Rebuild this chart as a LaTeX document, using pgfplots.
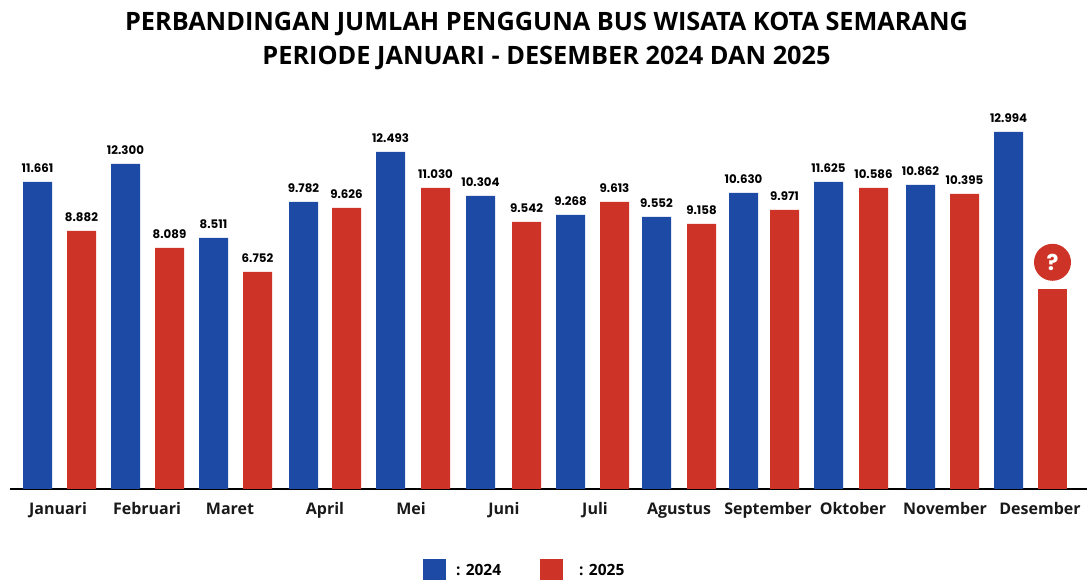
\documentclass[border=0pt]{standalone}
\usepackage{pgfplots}
\usepackage{pgfplotstable}
\usepackage{fontspec}
\pgfplotsset{compat=1.18}
\setmainfont{Open Sans}[BoldFont={* Bold}]
\newfontfamily\pop{Poppins}[BoldFont={* Bold}]
\definecolor{cblue}{HTML}{1D4AA5}
\definecolor{cred}{HTML}{CE3328}
% x = bar centre, h = drawn bar height, lab = printed value
\pgfplotstableread{
x h lab
37.5 307 11.661
125.5 325 12.300
213.5 251 8.511
303.5 287 9.782
390.5 337 12.493
480.5 293 10.304
570.5 274 9.268
656.5 272 9.552
743.5 296 10.630
828.5 307 11.625
920.5 304 10.862
1008.5 357 12.994
}\bluedata
\pgfplotstableread{
x h lab
81.5 258 8.882
169.5 241 8.089
257.5 217 6.752
346.5 281 9.626
435.5 301 11.030
526.5 267 9.542
614.5 287 9.613
701.5 265 9.158
784.5 279 9.971
873.5 301 10.586
964.5 295 10.395
}\reddata
\begin{document}
\begin{tikzpicture}
\path[use as bounding box] (0,0) rectangle (1087pt,580pt);
\begin{axis}[
  at={(0,0)}, anchor=south west,
  scale only axis, width=1087pt, height=580pt,
  xmin=0, xmax=1087, ymin=-91, ymax=489,
  axis y line=none,
  axis x line=middle,
  axis line style={draw=none},
  clip=false,
  xtick={58,147,230,325,411,504,595,679,768,853,945,1040},
  xticklabels={Januari,Februari,Maret,April,Mei,Juni,Juli,Agustus,September,Oktober,November,Desember},
  major tick length=0pt,
  tick label style={font=\fontsize{16}{18}\selectfont\bfseries, text=black!90, anchor=base, yshift=-26pt},
  title={PERBANDINGAN JUMLAH PENGGUNA BUS WISATA KOTA SEMARANG\\[8.5pt]PERIODE JANUARI - DESEMBER 2024 DAN 2025},
  title style={at={(axis cs:546.5,471)}, anchor=north, align=center, font=\fontsize{25.3}{25.3}\selectfont\bfseries, inner sep=0pt},
  legend columns=2,
  legend style={at={(axis cs:423,-70)}, anchor=north west, draw=none, fill=none, inner sep=0pt, outer sep=0pt,
    font=\fontsize{15.5}{18}\selectfont\bfseries,
    nodes={inner sep=0pt, anchor=west},
    /tikz/column 1/.style={column sep=10pt},
    /tikz/column 2/.style={column sep=39pt},
    /tikz/column 3/.style={column sep=16pt}},
  legend image code/.code={\fill[#1] (0pt,-9pt) rectangle (23pt,12pt);},
  nodes near coords style={font=\pop\fontsize{11.8}{12}\selectfont\bfseries, text=black, anchor=south, inner sep=0pt, yshift=9pt},
]
\addplot[forget plot, black, line width=2pt] coordinates {(10,0) (1087,0)};
\addplot[ybar, bar width=29pt, bar shift=0pt, fill=cblue, draw=none,
  point meta=explicit symbolic, nodes near coords={\pgfplotspointmeta}]
  table[x=x, y=h, meta=lab] {\bluedata};
\addlegendentry{: 2024}
\addplot[ybar, bar width=29pt, bar shift=0pt, fill=cred, draw=none,
  point meta=explicit symbolic, nodes near coords={\pgfplotspointmeta}]
  table[x=x, y=h, meta=lab] {\reddata};
\addlegendentry{: 2025}
\addplot[forget plot, ybar, bar width=29pt, bar shift=0pt, fill=cred, draw=none,
  nodes near coords={\fontsize{22}{22}\selectfont\bfseries ?},
  nodes near coords style={circle, fill=cred, text=white, minimum size=37pt, inner sep=0pt, anchor=south, yshift=-1pt}]
  coordinates {(1052.5,200)};
\end{axis}
\end{tikzpicture}
\end{document}
